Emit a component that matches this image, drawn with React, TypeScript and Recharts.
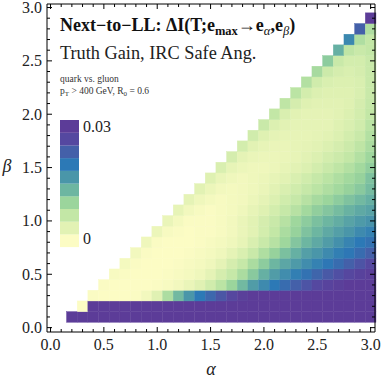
import { ComposedChart, XAxis, YAxis, ReferenceArea, Scatter } from "recharts"

// bin centres
const alphas = [0.2, 0.3, 0.4, 0.5, 0.6, 0.7, 0.8, 0.9, 1.0, 1.1, 1.2, 1.3, 1.4, 1.5, 1.6, 1.7, 1.8, 1.9, 2.0, 2.1, 2.2, 2.3, 2.4, 2.5, 2.6, 2.7, 2.8, 2.9, 3.0]
const betas = [0.1, 0.2, 0.3, 0.4, 0.5, 0.6, 0.7, 0.8, 0.9, 1.0, 1.1, 1.2, 1.3, 1.4, 1.5, 1.6, 1.7, 1.8, 1.9, 2.0, 2.1, 2.2, 2.3, 2.4, 2.5, 2.6, 2.7, 2.8, 2.9]

// truth gain in units of 1e-3, one row per beta, each row starts at alpha = beta + 0.1
const row01 = [30, 30, 30, 30, 30, 30, 30, 30, 30, 30, 30, 30, 30, 30, 30, 30, 30, 30, 30, 30, 30, 30, 30, 30, 30, 30, 30, 30, 30]
const row02 = [0, 30, 30, 30, 30, 30, 30, 30, 30, 30, 30, 30, 30, 30, 30, 30, 30, 30, 30, 30, 30, 30, 30, 30, 30, 30, 30, 30]
const row03 = [0.3, 0, 0, 0, 0.3, 1.3, 3.5, 8.5, 13, 16.7, 20, 22.3, 24.7, 27, 29, 30, 30, 30, 30, 30, 30, 30, 30, 30, 30, 30, 30]
const row04 = [0.3, 0, 0, 0, 0, 0.3, 0.7, 1.3, 2.3, 3.5, 5.3, 7.3, 10, 13, 16, 18, 20, 21.7, 23.3, 25, 26.7, 28, 29, 30, 30, 30]
const row05 = [0.7, 0.2, 0, 0, 0, 0.3, 0.7, 1, 1.7, 3, 4.7, 6.3, 8.7, 11.3, 14, 16, 17.7, 19.3, 21, 22.7, 24.3, 25.7, 27, 28.3, 29.3]
const row06 = [1, 0.3, 0, 0, 0, 0.3, 0.7, 1, 1.7, 3, 4.7, 6.3, 8.7, 11, 13.3, 15, 16.3, 17.7, 19, 20.3, 21.7, 23.3, 25, 26.7]
const row07 = [1.3, 0.3, 0, 0, 0, 0.3, 0.7, 1, 1.7, 3, 4.3, 6, 8.3, 10.3, 12.3, 14, 15.7, 16.7, 18, 19.3, 20.3, 21.7, 23.3]
const row08 = [1.7, 0.3, 0, 0, 0, 0.3, 0.7, 1, 1.7, 2.7, 4.3, 6, 7.7, 9.7, 11.7, 13.3, 14.7, 16, 17.3, 18.7, 20, 21]
const row09 = [2, 0.7, 0.3, 0, 0.3, 0.3, 0.7, 1.3, 2.3, 3.3, 5, 6.7, 8.7, 10.3, 12, 13.3, 14.7, 15.7, 16.7, 18, 19]
const row10 = [2.3, 1, 0.3, 0.3, 0.3, 0.7, 1.3, 2.3, 3.3, 4.7, 6, 7.7, 9.7, 11, 12.3, 13.3, 14.3, 15.3, 16.3, 17]
const row11 = [2.7, 1.3, 0.7, 0.3, 0.7, 1, 1.7, 2.7, 3.7, 5, 6.3, 7.7, 9.3, 10.7, 11.7, 12.7, 13.7, 14.7, 15.3]
const row12 = [3, 1.7, 1, 0.7, 1, 1.3, 2, 3, 4, 5.3, 6.3, 7.7, 9, 10, 11, 12, 13, 14]
const row13 = [3.3, 2, 1.3, 1, 1.3, 1.7, 2.3, 3.3, 4.3, 5.3, 6.3, 7.3, 8.3, 9.3, 10.3, 11.3, 12.7]
const row14 = [3.7, 2.3, 1.7, 1.3, 1.7, 2, 2.7, 3.3, 4.3, 5.3, 6.3, 7.3, 8.3, 9.3, 10.3, 12]
const row15 = [4.3, 2.7, 2, 1.7, 1.7, 2, 2.7, 3.3, 4, 5, 6, 7, 8, 9.3, 10.7]
const row16 = [4.7, 3, 2.3, 2, 2, 2.3, 2.7, 3.3, 4, 5, 5.7, 6.7, 8, 9.7]
const row17 = [5, 3.3, 2.7, 2.3, 2.3, 2.7, 3, 3.3, 4, 4.7, 5.7, 7, 8.7]
const row18 = [5.3, 3.7, 3, 2.7, 2.7, 2.7, 3, 3.3, 4, 5, 6, 8]
const row19 = [6, 4, 3.3, 3, 3, 3, 3, 3.7, 4.3, 5.3, 7.3]
const row20 = [6.7, 4.3, 3.3, 3, 3, 3, 3.3, 4, 5, 6.7]
const row21 = [7, 4.7, 3.7, 3.3, 3.3, 3.3, 3.7, 4.7, 6.3]
const row22 = [7.3, 5, 4, 3.7, 3.7, 3.7, 4.3, 6]
const row23 = [8, 5.3, 4.3, 4, 4, 4.3, 6]
const row24 = [9, 5.7, 4.7, 4.3, 4.7, 6]
const row25 = [11, 6, 5, 5, 6]
const row26 = [14, 7, 6, 6.7]
const row27 = [18.3, 8.3, 6.7]
const row28 = [23.3, 8.3]
const row29 = [30]
const rows = [row01, row02, row03, row04, row05, row06, row07, row08, row09, row10, row11, row12, row13, row14, row15, row16, row17, row18, row19, row20, row21, row22, row23, row24, row25, row26, row27, row28, row29]

const frameTicks = [0, 0.1, 0.2, 0.3, 0.4, 0.5, 0.6, 0.7, 0.8, 0.9, 1.0, 1.1, 1.2, 1.3, 1.4, 1.5, 1.6, 1.7, 1.8, 1.9, 2.0, 2.1, 2.2, 2.3, 2.4, 2.5, 2.6, 2.7, 2.8, 2.9, 3.0]

// bar legend, bottom (0) to top (0.03)
const legendColors = ["#fcfcc4", "#e2f2b4", "#c3e7a6", "#9bd59c", "#6db6a1", "#4a96a9", "#2c79b6", "#4460a9", "#5548a0", "#5c3c98"]
const legendMax = 30

const FONT = '"Liberation Serif", "Times New Roman", serif'
const BIN = 0.1

function toRgb(h: string) {
  return [1, 3, 5].map((i) => parseInt(h.slice(i, i + 2), 16))
}

function colorFor(v: number) {
  const n = legendColors.length - 1
  const t = Math.max(0, Math.min(1, v / legendMax)) * n
  const i = Math.min(Math.floor(t), n - 1)
  const f = t - i
  const a = toRgb(legendColors[i])
  const b = toRgb(legendColors[i + 1])
  const c = a.map((x, k) => Math.round(x + (b[k] - x) * f))
  return `rgb(${c[0]},${c[1]},${c[2]})`
}

const isMajor = (v: number) => Math.abs(v * 2 - Math.round(v * 2)) < 1e-6

function BottomTick({ x, y, payload }: any) {
  const major = isMajor(payload.value)
  return (
    <g>
      <line x1={x} y1={y} x2={x} y2={y - (major ? 5 : 3)} stroke="#000" strokeWidth={1} />
      {major && (
        <text x={x} y={y + 17.5} textAnchor="middle" fontFamily={FONT} fontSize={16} fill="#222">
          {payload.value.toFixed(1)}
        </text>
      )}
    </g>
  )
}

function TopTick({ x, y, payload }: any) {
  const major = isMajor(payload.value)
  return <line x1={x} y1={y} x2={x} y2={y + (major ? 5 : 3)} stroke="#000" strokeWidth={1} />
}

function LeftTick({ x, y, payload }: any) {
  const major = isMajor(payload.value)
  return (
    <g>
      <line x1={x} y1={y} x2={x + (major ? 5 : 3)} y2={y} stroke="#000" strokeWidth={1} />
      {major && (
        <text x={x - 5} y={y + 5.5} textAnchor="end" fontFamily={FONT} fontSize={16} fill="#222">
          {payload.value.toFixed(1)}
        </text>
      )}
    </g>
  )
}

function RightTick({ x, y, payload }: any) {
  const major = isMajor(payload.value)
  return <line x1={x} y1={y} x2={x - (major ? 5 : 3)} y2={y} stroke="#000" strokeWidth={1} />
}

export default function App() {
  const cells = rows.flatMap((row, j) =>
    row.map((v, k) => ({ a: alphas[j + k], b: betas[j], v }))
  )

  return (
    <div style={{ position: "absolute", left: 0, top: 0, width: 382, height: 382, background: "#fff" }}>
      <ComposedChart width={382} height={382} data={cells} margin={{ top: 2, right: 5, bottom: 20, left: 7 }}>
        <XAxis xAxisId="a" dataKey="a" type="number" domain={[-0.033, 3.041]} allowDataOverflow ticks={frameTicks} interval={0}
          height={30} tickSize={0} tickMargin={0} axisLine={{ stroke: "#000" }} tickLine={false} tick={BottomTick} />
        <XAxis xAxisId="top" dataKey="a" orientation="top" type="number" domain={[-0.033, 3.041]} allowDataOverflow ticks={frameTicks} interval={0}
          height={2} tickSize={0} tickMargin={0} axisLine={{ stroke: "#000" }} tickLine={false} tick={TopTick} />
        <YAxis yAxisId="b" dataKey="b" type="number" domain={[-0.041, 3.033]} allowDataOverflow ticks={frameTicks} interval={0}
          width={40} tickSize={0} tickMargin={0} axisLine={{ stroke: "#000" }} tickLine={false} tick={LeftTick} />
        <YAxis yAxisId="right" dataKey="b" orientation="right" type="number" domain={[-0.041, 3.033]} allowDataOverflow ticks={frameTicks} interval={0}
          width={2} tickSize={0} tickMargin={0} axisLine={{ stroke: "#000" }} tickLine={false} tick={RightTick} />
        <Scatter xAxisId="a" yAxisId="b" dataKey="b" isAnimationActive={false} shape={() => <g />} />
        {cells.map((c) => {
          const fill = colorFor(c.v)
          return (
            <ReferenceArea
              key={`${c.a}-${c.b}`}
              xAxisId="a"
              yAxisId="b"
              x1={c.a - BIN / 2}
              x2={c.a + BIN / 2}
              y1={c.b - BIN / 2}
              y2={c.b + BIN / 2}
              ifOverflow="hidden"
              shape={(p: any) => (
                <rect x={p.x} y={p.y} width={p.width} height={p.height} fill={fill} stroke={fill} strokeWidth={0.4} />
              )}
            />
          )
        })}
      </ComposedChart>

      <svg width={382} height={382} style={{ position: "absolute", left: 0, top: 0, pointerEvents: "none" }}>
        <text x={60} y={30.5} fontFamily={FONT} fontSize={18} fontWeight="bold" fill="#111">
          Next−to−LL: ΔI(T;e
          <tspan fontSize={12.5} dy={4}>max</tspan>
          <tspan dy={-4}>→e</tspan>
          <tspan fontSize={12.5} dy={4} fontStyle="italic" fontWeight="normal">α</tspan>
          <tspan dy={-4}>,e</tspan>
          <tspan fontSize={12.5} dy={4} fontStyle="italic" fontWeight="normal">β</tspan>
          <tspan dy={-4}>)</tspan>
        </text>
        <text x={60} y={59} fontFamily={FONT} fontSize={18.3} fill="#222">Truth Gain, IRC Safe Ang.</text>
        <text x={60} y={82} fontFamily={FONT} fontSize={9.5} fill="#333">quark vs. gluon</text>
        <text x={60} y={94} fontFamily={FONT} fontSize={9.5} fill="#333">
          p<tspan fontSize={7} dy={2}>T</tspan>
          <tspan dy={-2}> &gt; 400 GeV, R</tspan>
          <tspan fontSize={7} dy={2}>0</tspan>
          <tspan dy={-2}> = 0.6</tspan>
        </text>

        {legendColors.map((col, i) => (
          <rect key={col} x={60} y={247 - (i + 1) * 12.7} width={19} height={12.8} fill={col} />
        ))}
        <text x={83} y={132} fontFamily={FONT} fontSize={16} fill="#222">0.03</text>
        <text x={83} y={244} fontFamily={FONT} fontSize={16} fill="#222">0</text>

        <text x={7} y={172} textAnchor="middle" fontFamily={FONT} fontSize={18} fontStyle="italic" fill="#222">β</text>
        <text x={211} y={375} textAnchor="middle" fontFamily={FONT} fontSize={18} fontStyle="italic" fill="#222">α</text>
      </svg>
    </div>
  )
}
